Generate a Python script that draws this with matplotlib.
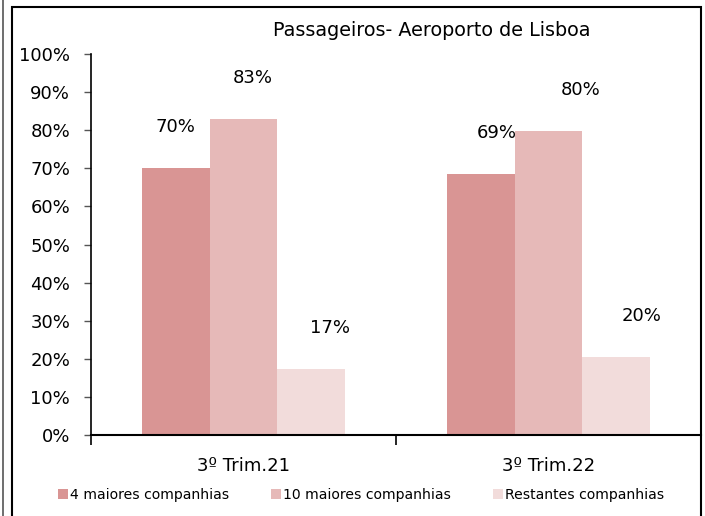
import matplotlib
matplotlib.use('Agg')
import matplotlib.pyplot as plt
from matplotlib.patches import Rectangle
from matplotlib.lines import Line2D
import numpy as np

# dados
categorias = ['3º Trim.21', '3º Trim.22']
series = ['4 maiores companhias', '10 maiores companhias', 'Restantes companhias']
quatro_maiores = [0.70, 0.685]
dez_maiores = [0.829, 0.798]
restantes = [0.173, 0.205]
rotulos = [['70%', '69%'], ['83%', '80%'], ['17%', '20%']]

cores = ['#D99594', '#E6B9B8', '#F2DCDB']
# deslocamento horizontal dos rotulos (pixels)
dx_rotulos = [[-1, 16], [9, 32], [19, 26]]

plt.rcParams['font.family'] = ['DejaVu Sans']

fig = plt.figure(figsize=(7.05, 5.16), dpi=100)
ax = fig.add_axes([91 / 705, (516 - 435) / 516, 610 / 705, 381 / 516])

x = np.arange(len(categorias))
largura = 0.221
valores = [quatro_maiores, dez_maiores, restantes]
for i, (nome, vals) in enumerate(zip(series, valores)):
    pos = x + (i - 1) * largura
    ax.bar(pos, vals, largura, color=cores[i], label=nome)
    for j, v in enumerate(vals):
        ax.annotate(rotulos[i][j], (pos[j], v), xytext=(dx_rotulos[i][j] * 0.72, 41 * 0.72),
                    textcoords='offset points', ha='center', va='center', fontsize=13)

ax.set_xlim(-0.5, 1.5)
ax.set_ylim(0, 1)
ax.set_yticks(np.arange(0, 1.01, 0.1))
ax.set_yticklabels([f'{int(round(t * 100))}%' for t in np.arange(0, 1.01, 0.1)], fontsize=13)
ax.set_xticks([-0.5, 0.5, 1.5])
ax.set_xticklabels([])
ax.set_xticks(x, minor=True)
ax.set_xticklabels(categorias, minor=True, fontsize=13)
ax.tick_params(axis='x', which='minor', length=0, pad=16)
ax.tick_params(axis='x', which='major', length=7, width=1.2, direction='out', color='black')
ax.tick_params(axis='y', length=5, width=1, color='#555555', pad=10)
for s in ['top', 'right']:
    ax.spines[s].set_visible(False)
ax.spines['left'].set_linewidth(1.2)
ax.spines['bottom'].set_linewidth(1.5)

fig.text(432 / 705, 1 - 30 / 516, 'Passageiros- Aeroporto de Lisboa', ha='center', va='center', fontsize=13.8)

leg = fig.legend(loc='center', bbox_to_anchor=(361 / 705, 1 - 495 / 516), ncol=3, frameon=False,
                 fontsize=10.1, handlelength=0.75, handleheight=0.75, handletextpad=0.15,
                 columnspacing=2.95)

# moldura
fig.add_artist(Rectangle((12 / 705, -0.01), 689 / 705, 1 - 7 / 516 + 0.01, transform=fig.transFigure,
                         fill=False, edgecolor='black', linewidth=1.5))
fig.add_artist(Line2D([2.5 / 705, 2.5 / 705], [0, 1], transform=fig.transFigure, color='#555555', linewidth=1.2))

fig.savefig('out.png', dpi=100)
